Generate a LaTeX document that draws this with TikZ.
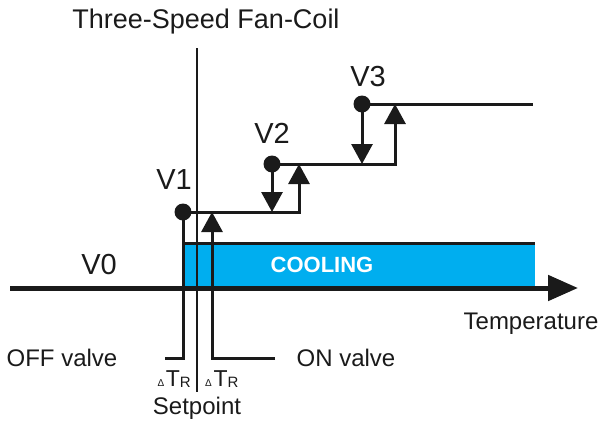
\documentclass[tikz,border=0pt]{standalone}
\usepackage{fontspec}
\setmainfont{Liberation Sans}
\usetikzlibrary{arrows.meta,positioning}
\definecolor{fcCool}{HTML}{00AEEF}
\definecolor{fcInk}{HTML}{1A1A1A}

\newcommand{\dtr}{{\fontsize{10}{10}\selectfont Δ}\,{\fontsize{23}{23}\selectfont T}{\fontsize{15}{15}\selectfont\raisebox{-1pt}{R}}}

\tikzset{
  dot/.style={circle, fill=fcInk, inner sep=0pt, minimum size=17pt},
  stepline/.style={draw=fcInk, line width=3pt},
  tiparrow/.style={-{Triangle[length=20pt,width=21pt]}},
  axisline/.style={draw=fcInk, line width=5pt, -{Triangle[length=30pt,width=25pt]}},
  vlabel/.style={font=\fontsize{29}{32}\selectfont, text=fcInk},
  txt/.style={font=\fontsize{24}{27}\selectfont, text=fcInk},
}

\begin{document}
\begin{tikzpicture}[x=1pt, y=-1pt]
  \useasboundingbox (0,0) rectangle (600,421);

  % cooling band
  \fill[fcCool] (183,244) rectangle (535,287);
  \draw[stepline] (183,243) -- (535,243);
  \node[font=\fontsize{22}{24}\selectfont\bfseries, text=white] (cool) at (322,265) {COOLING};

  % speed points
  \node[dot] (v1) at (183,212) {};
  \node[dot] (v2) at (272,164) {};
  \node[dot] (v3) at (362,104) {};
  \coordinate (s1) at (299,212);
  \coordinate (s1t) at (299,164);
  \coordinate (s2) at (395,164);
  \coordinate (s2t) at (395,104);
  \coordinate (s3) at (533,104);
  \coordinate (d2) at (272,212);
  \coordinate (d3) at (362,164);

  % valve lines
  \coordinate (off) at (183,358);
  \coordinate (offend) at (165,358);
  \coordinate (on) at (212,358);
  \coordinate (onend) at (275,358);
  \coordinate (ontip) at (212,212);

  % setpoint and axis
  \coordinate (sptop) at (197,48);
  \coordinate (spbot) at (197,392);
  \coordinate (axl) at (10,288);
  \coordinate (axr) at (578,288);

  \draw[fcInk, line width=2pt] (sptop) -- (spbot);

  \draw[stepline] (v1.center) -- (off) -- (offend);
  \draw[stepline, tiparrow] (onend) -- (on) -- (ontip);

  \draw[stepline, tiparrow] (v1.center) -- (s1) -- (s1t);
  \draw[stepline, tiparrow] (v2.center) -- (s2) -- (s2t);
  \draw[stepline] (v3.center) -- (s3);
  \draw[stepline, tiparrow] (v2.center) -- (d2);
  \draw[stepline, tiparrow] (v3.center) -- (d3);

  \draw[axisline] (axl) -- (axr);

  % labels
  \node[txt, font=\fontsize{27}{30}\selectfont] (title) at (206,22) {Three-Speed Fan-Coil};
  \node[vlabel] (l0) at (99,265) {V0};
  \node[vlabel] (l1) at (174,180) {V1};
  \node[vlabel] (l2) at (272,133) {V2};
  \node[vlabel] (l3) at (368,77) {V3};
  \node[txt] (temp) at (531,324) {Temperature};
  \node[txt] (offv) at (62,358) {OFF valve};
  \node[txt] (onv) at (346,358) {ON valve};
  \node[txt] (setp) at (197,408) {Setpoint};
  \node[inner sep=0pt, anchor=east, text=fcInk] (dtl) at (191,379) {\dtr};
  \node[inner sep=0pt, anchor=west, text=fcInk] (dtrr) at (205,379) {\dtr};
\end{tikzpicture}
\end{document}
